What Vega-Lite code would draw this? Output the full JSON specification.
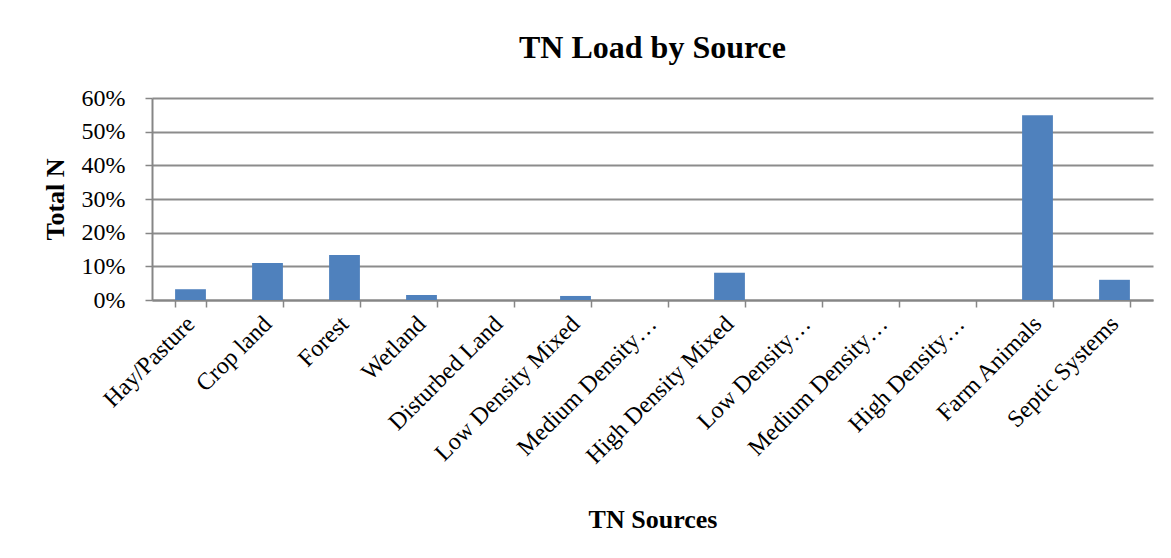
{
  "$schema": "https://vega.github.io/schema/vega-lite/v6.json",
  "width": 1001,
  "height": 202,
  "autosize": {"type": "none"},
  "padding": {"left": 152, "top": 98, "right": 18, "bottom": 258},
  "background": "white",
  "title": {
    "text": "TN Load by Source",
    "font": "Liberation Serif",
    "fontSize": 32,
    "fontWeight": "bold",
    "color": "#000000",
    "anchor": "middle",
    "offset": 21
  },
  "data": {
    "values": [
      {"source": "Hay/Pasture", "pct": 0.032},
      {"source": "Crop land", "pct": 0.110},
      {"source": "Forest", "pct": 0.134},
      {"source": "Wetland", "pct": 0.015},
      {"source": "Disturbed Land", "pct": 0.0},
      {"source": "Low Density Mixed", "pct": 0.012},
      {"source": "Medium Density…", "pct": 0.0},
      {"source": "High Density Mixed", "pct": 0.081},
      {"source": "Low Density…", "pct": 0.0},
      {"source": "Medium Density… ", "pct": 0.0},
      {"source": "High Density…", "pct": 0.0},
      {"source": "Farm Animals", "pct": 0.549},
      {"source": "Septic Systems", "pct": 0.060}
    ]
  },
  "mark": {"type": "bar", "color": "#4F81BD"},
  "encoding": {
    "x": {
      "field": "source",
      "type": "nominal",
      "sort": null,
      "scale": {"paddingInner": 0.6, "paddingOuter": 0.3},
      "axis": {
        "title": "TN Sources",
        "titleFont": "Liberation Serif",
        "titleFontSize": 26,
        "titleFontWeight": "bold",
        "titleColor": "#000000",
        "titlePadding": 38,
        "labelFont": "Liberation Serif",
        "labelFontSize": 24,
        "labelColor": "#000000",
        "labelAngle": -45,
        "labelAlign": "right",
        "labelBaseline": "middle",
        "labelPadding": 13,
        "labelLimit": 300,
        "tickBand": "extent",
        "tickSize": 7,
        "tickColor": "#868686",
        "tickWidth": 1.5,
        "domainColor": "#868686",
        "domainWidth": 2,
        "grid": false
      }
    },
    "y": {
      "field": "pct",
      "type": "quantitative",
      "scale": {"domain": [0, 0.6]},
      "axis": {
        "title": "Total N",
        "titleFont": "Liberation Serif",
        "titleFontSize": 26,
        "titleFontWeight": "bold",
        "titleColor": "#000000",
        "titlePadding": 13,
        "format": ".0%",
        "values": [0, 0.1, 0.2, 0.3, 0.4, 0.5, 0.6],
        "labelFont": "Liberation Serif",
        "labelFontSize": 24,
        "labelColor": "#000000",
        "labelPadding": 20,
        "tickSize": 7,
        "tickColor": "#868686",
        "tickWidth": 1.5,
        "domainColor": "#868686",
        "domainWidth": 2,
        "grid": true,
        "gridColor": "#8C8C8C",
        "gridWidth": 2
      }
    }
  },
  "config": {"view": {"stroke": null}}
}
